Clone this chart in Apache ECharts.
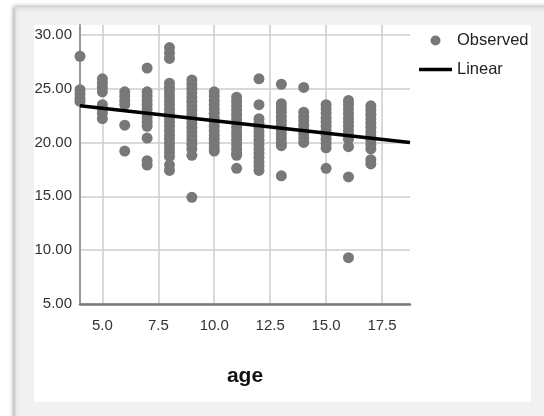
<!DOCTYPE html>
<html>
<head>
<meta charset="utf-8">
<script src="https://cdn.jsdelivr.net/npm/echarts@6/dist/echarts.min.js"></script>
<style>html,body{margin:0;padding:0;background:#fff;}#c{width:544px;height:416px;}</style>
</head>
<body>
<div id="c"></div>
<script>
const ages = [4, 5, 6, 7, 8, 9, 10, 11, 12, 13, 14, 15, 16, 17];
const observed = [
  [28.0, 24.9, 24.5, 24.1, 23.8],
  [25.9, 25.5, 25.1, 24.7, 23.5, 23.1, 22.7, 22.2],
  [24.7, 24.3, 23.9, 23.5, 21.6, 19.2],
  [26.9, 24.7, 24.3, 23.9, 23.5, 23.1, 22.7, 22.3, 21.9, 21.5, 20.4, 18.3, 17.9],
  [28.8, 28.3, 27.8, 25.5, 25.1, 24.7, 24.3, 23.9, 23.5, 23.1, 22.7, 22.3, 21.9, 21.5, 21.1, 20.7, 20.3, 19.9, 19.5, 19.1, 18.7, 17.9, 17.4],
  [25.8, 25.4, 25.0, 24.6, 24.2, 23.8, 23.4, 23.0, 22.6, 22.2, 21.8, 21.4, 21.0, 20.6, 20.2, 19.8, 19.4, 18.8, 14.9],
  [24.7, 24.3, 23.9, 23.5, 23.1, 22.7, 22.3, 21.9, 21.5, 21.1, 20.7, 20.3, 19.9, 19.5, 19.2],
  [24.2, 23.8, 23.4, 23.0, 22.6, 22.2, 21.8, 21.4, 21.0, 20.6, 20.2, 19.8, 19.4, 19.0, 18.8, 17.6],
  [25.9, 23.5, 22.2, 21.8, 21.4, 21.0, 20.6, 20.2, 19.8, 19.4, 19.0, 18.6, 18.2, 17.8, 17.4],
  [25.4, 23.6, 23.2, 22.8, 22.4, 22.0, 21.6, 21.2, 20.8, 20.4, 20.0, 19.7, 16.9],
  [25.1, 22.8, 22.4, 22.0, 21.6, 21.2, 20.8, 20.4, 20.0],
  [23.5, 23.1, 22.7, 22.3, 21.9, 21.5, 21.1, 20.7, 20.3, 19.9, 19.5, 17.6],
  [23.9, 23.5, 23.1, 22.7, 22.3, 21.9, 21.5, 21.1, 20.7, 20.3, 19.6, 16.8, 9.3],
  [23.4, 23.0, 22.6, 22.2, 21.8, 21.4, 21.0, 20.6, 20.2, 19.8, 19.4, 18.4, 18.0]
];
const linearX = [4, 18.75];
const linearY = [23.4, 20.0];
const xTicks = [5, 7.5, 10, 12.5, 15, 17.5];
const yTicks = [5, 10, 15, 20, 25, 30];

const scatterData = [];
ages.forEach((a, i) => observed[i].forEach(v => scatterData.push([a, v])));
const lineData = linearX.map((x, i) => [x, linearY[i]]);

const font = '"Liberation Sans", Arial, sans-serif';
const chart = echarts.init(document.getElementById('c'), null, {renderer: 'canvas'});
chart.setOption({
  animation: false,
  backgroundColor: '#ffffff',
  graphic: [
    {type: 'rect', shape: {x: 15, y: 7, width: 540, height: 420}, style: {fill: '#f1f1f1', stroke: '#d8d8d8', lineWidth: 1, shadowBlur: 4, shadowColor: 'rgba(0,0,0,0.35)', shadowOffsetX: -1}, z: -10},
    {type: 'rect', shape: {x: 34, y: 25, width: 497, height: 377}, style: {fill: '#ffffff'}, z: -9}
  ],
  grid: {left: 80, right: 134, top: 25, bottom: 112, containLabel: false},
  legend: {
    orient: 'vertical', left: 414, top: 27, itemWidth: 33, itemHeight: 10, itemGap: 12,
    textStyle: {fontFamily: font, fontSize: 16.5, color: '#222'},
    data: [
      {name: 'Observed', icon: 'circle'},
      {name: 'Linear', icon: 'path://M0,0 L0,0 M0,3.2 L33,3.2 L33,6.8 L0,6.8 Z M33,10 L33,10'}
    ]
  },
  xAxis: {
    type: 'value', min: 4, max: 18.75,
    name: 'age', nameLocation: 'middle', nameGap: 62,
    nameTextStyle: {fontFamily: font, fontSize: 21, fontWeight: 'bold', color: '#111'},
    axisLine: {show: true, onZero: false, lineStyle: {color: '#7a7a7a', width: 2.5}},
    axisTick: {show: false, customValues: xTicks},
    axisLabel: {customValues: xTicks, formatter: v => v.toFixed(1), fontFamily: font, fontSize: 15, color: '#333', margin: 14},
    splitLine: {show: true, lineStyle: {color: '#cccccc', width: 1.5}}
  },
  yAxis: {
    type: 'value', min: 5, max: 30.9,
    axisLine: {show: true, onZero: false, lineStyle: {color: '#9a9a9a', width: 2}},
    axisTick: {show: false, customValues: yTicks},
    axisLabel: {customValues: yTicks, formatter: v => v.toFixed(2), fontFamily: font, fontSize: 15, color: '#333', margin: 8},
    splitLine: {show: true, lineStyle: {color: '#cccccc', width: 1.5}}
  },
  series: [
    {name: 'Observed', type: 'scatter', data: scatterData, symbol: 'circle', symbolSize: 11, itemStyle: {color: '#787878', opacity: 1}, clip: false, z: 2},
    {name: 'Linear', type: 'line', data: lineData, symbol: 'none', lineStyle: {color: '#000', width: 3.5}, itemStyle: {color: '#000'}, z: 3}
  ]
});
</script>
</body>
</html>
